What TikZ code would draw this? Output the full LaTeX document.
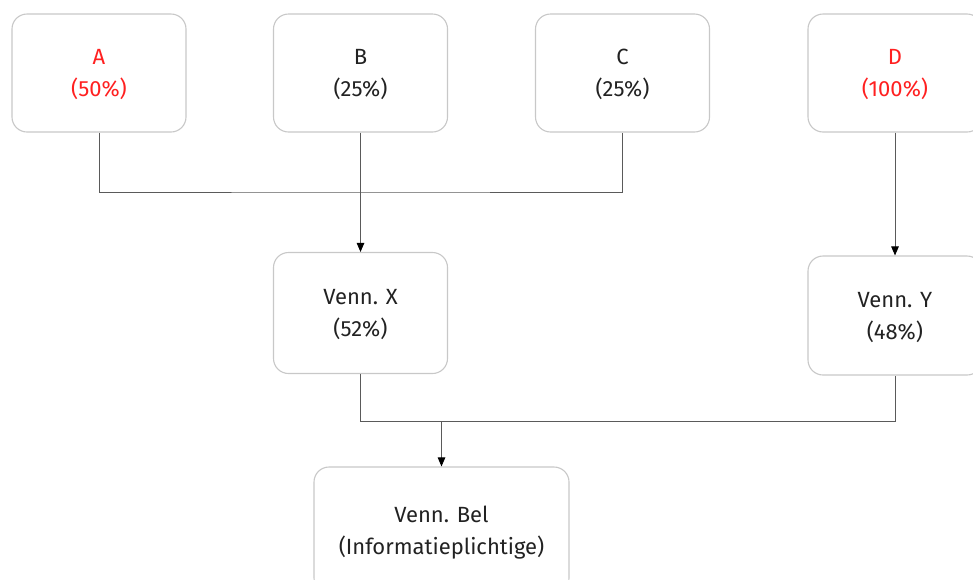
\documentclass[tikz,border=0pt]{standalone}
\usepackage{fontspec}
\setmainfont{Fira Sans}
\usetikzlibrary{arrows.meta}
\definecolor{boxline}{HTML}{C8C8C8}
\definecolor{conn}{HTML}{5A5A5A}
\definecolor{redtxt}{HTML}{FF2020}
\definecolor{txt}{HTML}{222222}
\tikzset{
  box/.style={draw=boxline, line width=1.1pt, rounded corners=15pt, fill=white,
    minimum width=174pt, minimum height=118pt, align=center, inner sep=0pt,
    text depth=0pt, text=txt, font=\fontsize{22}{32}\selectfont},
  redbox/.style={box, text=redtxt},
  conline/.style={draw=conn, line width=0.9pt},
  arr/.style={conline, -{Triangle[length=9pt,width=7.5pt]}, arrows={[color=black]}},
}
\begin{document}
\begin{tikzpicture}[x=1pt,y=-1pt]
\useasboundingbox (0,0) rectangle (973,579);
\clip (0,0) rectangle (973,579);
\node[redbox] (A) at (99,73) {A\\(50\%)};
\node[box] (B) at (360.5,73) {B\\(25\%)};
\node[box] (C) at (622.5,73) {C\\(25\%)};
\node[redbox] (D) at (895,73) {D\\(100\%)};
\node[box, minimum height=121pt] (X) at (360.5,313) {Venn. X\\(52\%)};
\node[box, minimum height=119pt] (Y) at (895,315.5) {Venn. Y\\(48\%)};
\node[box, minimum width=255pt, minimum height=126pt] (Bel) at (441.5,530) {Venn. Bel\\(Informatieplichtige)};
\coordinate (j1) at (360.5,192);
\coordinate (j2) at (441.5,421);
\draw[conline] (A.south) |- (j1) -| (C.south);
\draw[arr] (B.south) -- (X.north);
\draw[arr] (D.south) -- (Y.north);
\draw[conline] (X.south) |- (j2) -| (Y.south);
\draw[arr] (j2) -- (Bel.north);
\end{tikzpicture}
\end{document}
